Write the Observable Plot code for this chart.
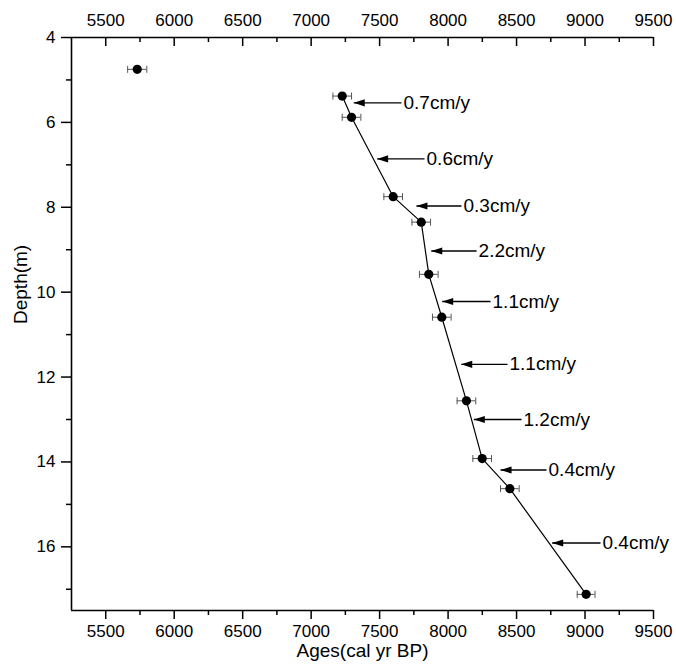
<!DOCTYPE html>
<html>
<head>
<meta charset="utf-8">
<script src="https://cdn.jsdelivr.net/npm/d3@7"></script>
<script src="https://cdn.jsdelivr.net/npm/@observablehq/plot@0.6"></script>
<style>
  html, body { margin: 0; padding: 0; background: #fff; }
  #chart svg { display: block; }
</style>
</head>
<body>
<div id="chart"></div>
<script>
// ---- data ----
const ages   = [5730, 7227, 7295, 7599, 7804, 7859, 7954, 8134, 8249, 8451, 9008];
const depths = [4.75, 5.38, 5.88, 7.75, 8.35, 9.58, 10.59, 12.56, 13.92, 14.63, 17.12];
const errs   = [70, 68, 68, 68, 68, 68, 68, 68, 68, 68, 65];

const rateLabels = ["0.7cm/y", "0.6cm/y", "0.3cm/y", "2.2cm/y", "1.1cm/y", "1.1cm/y", "1.2cm/y", "0.4cm/y", "0.4cm/y"];
const rateDepths = [5.54, 6.86, 7.97, 9.03, 10.22, 11.70, 13.0, 14.19, 15.91];
const rateTipAge = [7311, 7482, 7769, 7877, 7957, 8096, 8188, 8383, 8760];
const rateTailAge = [7660, 7828, 8098, 8208, 8310, 8434, 8536, 8719, 9113];

const xTicks = [5500, 6000, 6500, 7000, 7500, 8000, 8500, 9000, 9500];
const xMinor = [5750, 6250, 6750, 7250, 7750, 8250, 8750, 9250];
const yTicks = [4, 6, 8, 10, 12, 14, 16];
const yMinor = [5, 7, 9, 11, 13, 15, 17];
const xDomain = [5250, 9500];
const yDomain = [4, 17.5];
const xTitle = "Ages(cal yr BP)";
const yTitle = "Depth(m)";

// ---- derived tables ----
const samples = ages.map((a, i) => ({age: a, depth: depths[i], err: errs[i]}));
const rates = rateLabels.map((t, i) => ({label: t, depth: rateDepths[i], tip: rateTipAge[i], tail: rateTailAge[i]}));

// custom symbols
const leftArrowHead = { draw(ctx) { ctx.moveTo(0, 0); ctx.lineTo(11, -3.6); ctx.lineTo(11, 3.6); ctx.closePath(); } };
const vBar = { draw(ctx) { ctx.moveTo(0, -3.5); ctx.lineTo(0, 3.5); } };

const W = 676, H = 667;
const mT = 37, mB = 57, mL = 71, mR = 23;
const plotH = H - mT - mB;
const fmt = d => String(d);
const font = 17;

const chart = Plot.plot({
  width: W,
  height: H,
  marginTop: mT,
  marginBottom: mB,
  marginLeft: mL,
  marginRight: mR,
  style: {fontFamily: "'Liberation Sans', Arial, sans-serif", fontSize: "17px", color: "#000", background: "#fff"},
  x: {domain: xDomain, axis: null, label: null},
  y: {domain: yDomain, reverse: true, axis: null, label: null},
  marks: [
    // frame lines (left, top, bottom)
    Plot.ruleX([xDomain[0]], {stroke: "#000", strokeWidth: 1.6}),
    Plot.ruleY(yDomain, {stroke: "#000", strokeWidth: 1.6}),
    // bottom axis
    Plot.axisX({anchor: "bottom", label: null, ticks: xTicks, tickFormat: fmt, tickSize: 9, tickPadding: 5, fontSize: font, strokeWidth: 1.5}),
    Plot.axisX({anchor: "bottom", label: null, ticks: xMinor, tickFormat: () => "", tickSize: 5, strokeWidth: 1.5}),
    // top axis (labels outside, ticks inward)
    Plot.axisX({anchor: "top", label: null, ticks: xTicks, tickFormat: fmt, tickSize: 0, tickPadding: 12, fontSize: font}),
    Plot.tickX(xTicks, {x: d => d, insetBottom: plotH - 9, stroke: "#000", strokeWidth: 1.5}),
    Plot.tickX(xMinor, {x: d => d, insetBottom: plotH - 5, stroke: "#000", strokeWidth: 1.5}),
    // left axis
    Plot.axisY({anchor: "left", label: null, ticks: yTicks, tickFormat: fmt, tickSize: 10, tickPadding: 6, fontSize: font, strokeWidth: 1.5}),
    Plot.axisY({anchor: "left", label: null, ticks: yMinor, tickFormat: () => "", tickSize: 5, strokeWidth: 1.5}),
    // axis titles
    Plot.text([xTitle], {text: d => d, frameAnchor: "bottom", dy: 40, fontSize: 19, lineAnchor: "middle"}),
    Plot.text([yTitle], {text: d => d, frameAnchor: "left", dx: -51, rotate: -90, fontSize: 19, lineAnchor: "middle"}),
    // error bars
    Plot.ruleY(samples, {y: "depth", x1: d => d.age - d.err, x2: d => d.age + d.err, stroke: "#555", strokeWidth: 1}),
    Plot.dot(samples, {x: d => d.age - d.err, y: "depth", symbol: vBar, stroke: "#555", fill: "none", strokeWidth: 1}),
    Plot.dot(samples, {x: d => d.age + d.err, y: "depth", symbol: vBar, stroke: "#555", fill: "none", strokeWidth: 1}),
    // age-depth line (from second sample on)
    Plot.line(samples.slice(1), {x: "age", y: "depth", stroke: "#000", strokeWidth: 1.2}),
    Plot.dot(samples, {x: "age", y: "depth", r: 4.6, fill: "#000", stroke: "none"}),
    // sedimentation-rate arrows
    Plot.link(rates, {x1: "tail", x2: "tip", y1: "depth", y2: "depth", stroke: "#000", strokeWidth: 1.3}),
    Plot.dot(rates, {x: "tip", y: "depth", symbol: leftArrowHead, fill: "#000", stroke: "none"}),
    Plot.text(rates, {x: "tail", y: "depth", text: "label", textAnchor: "start", dx: 2, fontSize: 19, lineAnchor: "middle", fill: "#000"})
  ]
});
document.getElementById("chart").appendChild(chart);
</script>
</body>
</html>
